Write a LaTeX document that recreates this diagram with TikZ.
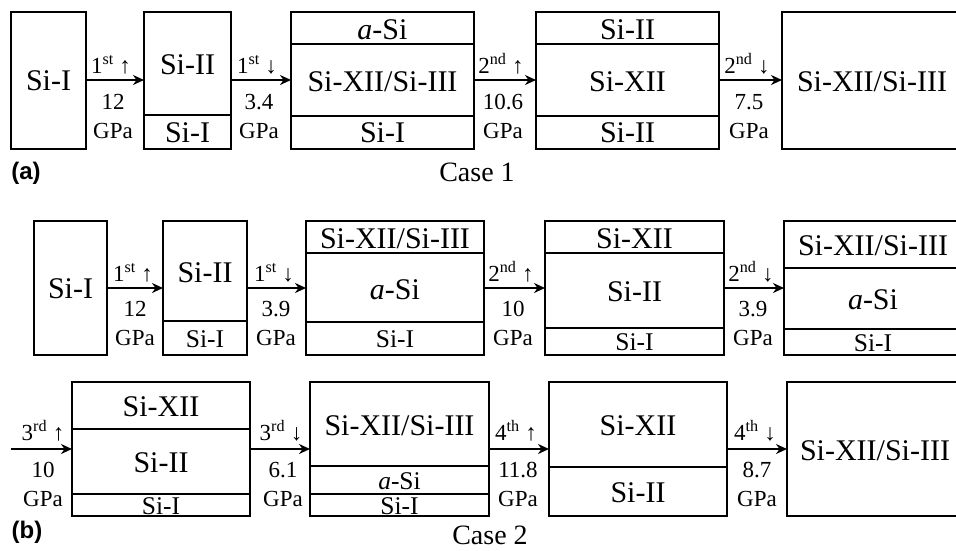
\documentclass[tikz,border=0pt]{standalone}
\usepackage{fontspec}
\setmainfont{Liberation Serif}
\newfontfamily\panelfont{Liberation Sans}
\usetikzlibrary{arrows.meta}
\begin{document}
\begin{tikzpicture}[x=1pt,y=-1pt,
  box/.style={draw, line width=2pt, inner sep=0pt, outer sep=0pt, anchor=north west},
  sepline/.style={line width=2pt},
  big/.style={inner sep=0pt, font=\fontsize{30}{31}\selectfont, text height=20pt, text depth=0pt},
  small/.style={inner sep=0pt, font=\fontsize{25.5}{26}\selectfont, text height=17pt, text depth=0pt},
  lab/.style={inner sep=0pt, font=\fontsize{23}{24}\selectfont, text height=15.5pt, text depth=0pt},
  flow/.style={line width=2pt, -{Stealth[length=11pt,width=10pt]}},
  panel/.style={inner sep=0pt, font=\panelfont\bfseries\fontsize{24}{25}\selectfont},
  casefont/.style={inner sep=0pt, font=\fontsize{28}{29}\selectfont, text height=19pt, text depth=0pt},
]
\useasboundingbox (0,0) rectangle (956,550);

% ---------------- Row 1 (Case 1) ----------------
\node[box, minimum width=75pt,  minimum height=137pt] (A1) at (11,12) {};
\node[box, minimum width=87pt,  minimum height=137pt] (A2) at (144,12) {};
\node[box, minimum width=183pt, minimum height=137pt] (A3) at (291,12) {};
\node[box, minimum width=183pt, minimum height=137pt] (A4) at (536,12) {};
\node[box, minimum width=180pt, minimum height=137pt] (A5) at (782,12) {};
\draw[sepline] (A2.west |- 0,115) -- (A2.east |- 0,115);
\draw[sepline] (A3.west |- 0,44) -- (A3.east |- 0,44);
\draw[sepline] (A3.west |- 0,116) -- (A3.east |- 0,116);
\draw[sepline] (A4.west |- 0,44) -- (A4.east |- 0,44);
\draw[sepline] (A4.west |- 0,116) -- (A4.east |- 0,116);

\node[big] (a1t) at (48.5,80) {Si-I};
\node[big] (a2t) at (187.5,64) {Si-II};
\node[big] (a2b) at (187.5,132) {Si-I};
\node[big] (a3t) at (382.5,29) {\textit{a}-Si};
\node[big] (a3m) at (382.5,81) {Si-XII/Si-III};
\node[big] (a3b) at (382.5,132) {Si-I};
\node[big] (a4t) at (627.5,29) {Si-II};
\node[big] (a4m) at (627.5,81) {Si-XII};
\node[big] (a4b) at (627.5,132) {Si-II};
\node[big] (a5t) at (872,81) {Si-XII/Si-III};

\draw[flow] (A1.east |- 0,80) -- (A2.west |- 0,80);
\draw[flow] (A2.east |- 0,80) -- (A3.west |- 0,80);
\draw[flow] (A3.east |- 0,80) -- (A4.west |- 0,80);
\draw[flow] (A4.east |- 0,80) -- (A5.west |- 0,80);

\node[lab] (l11) at (111,66) {1\textsuperscript{st} ↑};
\node[lab] (l12) at (113,102) {12};
\node[lab] (l13) at (113,131) {GPa};
\node[lab] (l21) at (257,66) {1\textsuperscript{st} ↓};
\node[lab] (l22) at (259,102) {3.4};
\node[lab] (l23) at (259,131) {GPa};
\node[lab] (l31) at (501,66) {2\textsuperscript{nd} ↑};
\node[lab] (l32) at (503,102) {10.6};
\node[lab] (l33) at (503,131) {GPa};
\node[lab] (l41) at (747,66) {2\textsuperscript{nd} ↓};
\node[lab] (l42) at (749,102) {7.5};
\node[lab] (l43) at (749,131) {GPa};

\node[panel] (pa) at (26,173) {(a)};
\node[casefont] (c1) at (477,172) {Case 1};

% ---------------- Row 2 (Case 2) ----------------
\node[box, minimum width=73pt,  minimum height=134pt] (B1) at (34,221) {};
\node[box, minimum width=84pt,  minimum height=134pt] (B2) at (163,221) {};
\node[box, minimum width=178pt, minimum height=134pt] (B3) at (306,221) {};
\node[box, minimum width=179pt, minimum height=134pt] (B4) at (545,221) {};
\node[box, minimum width=178pt, minimum height=134pt] (B5) at (784,221) {};
\draw[sepline] (B2.west |- 0,321) -- (B2.east |- 0,321);
\draw[sepline] (B3.west |- 0,253) -- (B3.east |- 0,253);
\draw[sepline] (B3.west |- 0,322) -- (B3.east |- 0,322);
\draw[sepline] (B4.west |- 0,253) -- (B4.east |- 0,253);
\draw[sepline] (B4.west |- 0,328) -- (B4.east |- 0,328);
\draw[sepline] (B5.west |- 0,268) -- (B5.east |- 0,268);
\draw[sepline] (B5.west |- 0,329) -- (B5.east |- 0,329);

\node[big] (b1t) at (70.5,288) {Si-I};
\node[big] (b2t) at (205,272) {Si-II};
\node[small] (b2b) at (205,339) {Si-I};
\node[big] (b3t) at (395,238) {Si-XII/Si-III};
\node[big] (b3m) at (395,289) {\textit{a}-Si};
\node[small] (b3b) at (395,339) {Si-I};
\node[big] (b4t) at (634.5,238) {Si-XII};
\node[big] (b4m) at (634.5,291) {Si-II};
\node[small] (b4b) at (634.5,342) {Si-I};
\node[big] (b5t) at (873,245) {Si-XII/Si-III};
\node[big] (b5m) at (873,299) {\textit{a}-Si};
\node[small] (b5b) at (873,343) {Si-I};

\draw[flow] (B1.east |- 0,288) -- (B2.west |- 0,288);
\draw[flow] (B2.east |- 0,288) -- (B3.west |- 0,288);
\draw[flow] (B3.east |- 0,288) -- (B4.west |- 0,288);
\draw[flow] (B4.east |- 0,288) -- (B5.west |- 0,288);

\node[lab] (m11) at (133,274) {1\textsuperscript{st} ↑};
\node[lab] (m12) at (135,309) {12};
\node[lab] (m13) at (135,338) {GPa};
\node[lab] (m21) at (274,274) {1\textsuperscript{st} ↓};
\node[lab] (m22) at (276,309) {3.9};
\node[lab] (m23) at (276,338) {GPa};
\node[lab] (m31) at (511,274) {2\textsuperscript{nd} ↑};
\node[lab] (m32) at (513,309) {10};
\node[lab] (m33) at (513,338) {GPa};
\node[lab] (m41) at (751,274) {2\textsuperscript{nd} ↓};
\node[lab] (m42) at (753,309) {3.9};
\node[lab] (m43) at (753,338) {GPa};

% ---------------- Row 3 (Case 2, continued) ----------------
\coordinate (start) at (11,449);
\node[box, minimum width=178pt, minimum height=134pt] (C1) at (72,382) {};
\node[box, minimum width=179pt, minimum height=134pt] (C2) at (310,382) {};
\node[box, minimum width=178pt, minimum height=134pt] (C3) at (549,382) {};
\node[box, minimum width=175pt, minimum height=134pt] (C4) at (787,382) {};
\draw[sepline] (C1.west |- 0,429) -- (C1.east |- 0,429);
\draw[sepline] (C1.west |- 0,494) -- (C1.east |- 0,494);
\draw[sepline] (C2.west |- 0,466) -- (C2.east |- 0,466);
\draw[sepline] (C2.west |- 0,494) -- (C2.east |- 0,494);
\draw[sepline] (C3.west |- 0,467) -- (C3.east |- 0,467);

\node[big] (c1t) at (161,406) {Si-XII};
\node[big] (c1m) at (161,462) {Si-II};
\node[small] (c1b) at (161,506) {Si-I};
\node[big] (c2t) at (399.5,425) {Si-XII/Si-III};
\node[small] (c2m) at (399.5,481) {\textit{a}-Si};
\node[small] (c2b) at (399.5,506) {Si-I};
\node[big] (c3t) at (638,425) {Si-XII};
\node[big] (c3b) at (638,492) {Si-II};
\node[big] (c4t) at (875,450) {Si-XII/Si-III};

\draw[flow] (start) -- (C1.west |- 0,449);
\draw[flow] (C1.east |- 0,449) -- (C2.west |- 0,449);
\draw[flow] (C2.east |- 0,449) -- (C3.west |- 0,449);
\draw[flow] (C3.east |- 0,449) -- (C4.west |- 0,449);

\node[lab] (n11) at (43,433) {3\textsuperscript{rd} ↑};
\node[lab] (n12) at (43,470) {10};
\node[lab] (n13) at (43,499) {GPa};
\node[lab] (n21) at (281,433) {3\textsuperscript{rd} ↓};
\node[lab] (n22) at (283,470) {6.1};
\node[lab] (n23) at (283,499) {GPa};
\node[lab] (n31) at (516,433) {4\textsuperscript{th} ↑};
\node[lab] (n32) at (518,470) {11.8};
\node[lab] (n33) at (518,499) {GPa};
\node[lab] (n41) at (755,433) {4\textsuperscript{th} ↓};
\node[lab] (n42) at (757,470) {8.7};
\node[lab] (n43) at (757,499) {GPa};

\node[panel] (pb) at (27,532) {(b)};
\node[casefont] (c2) at (490,535) {Case 2};
\end{tikzpicture}
\end{document}
